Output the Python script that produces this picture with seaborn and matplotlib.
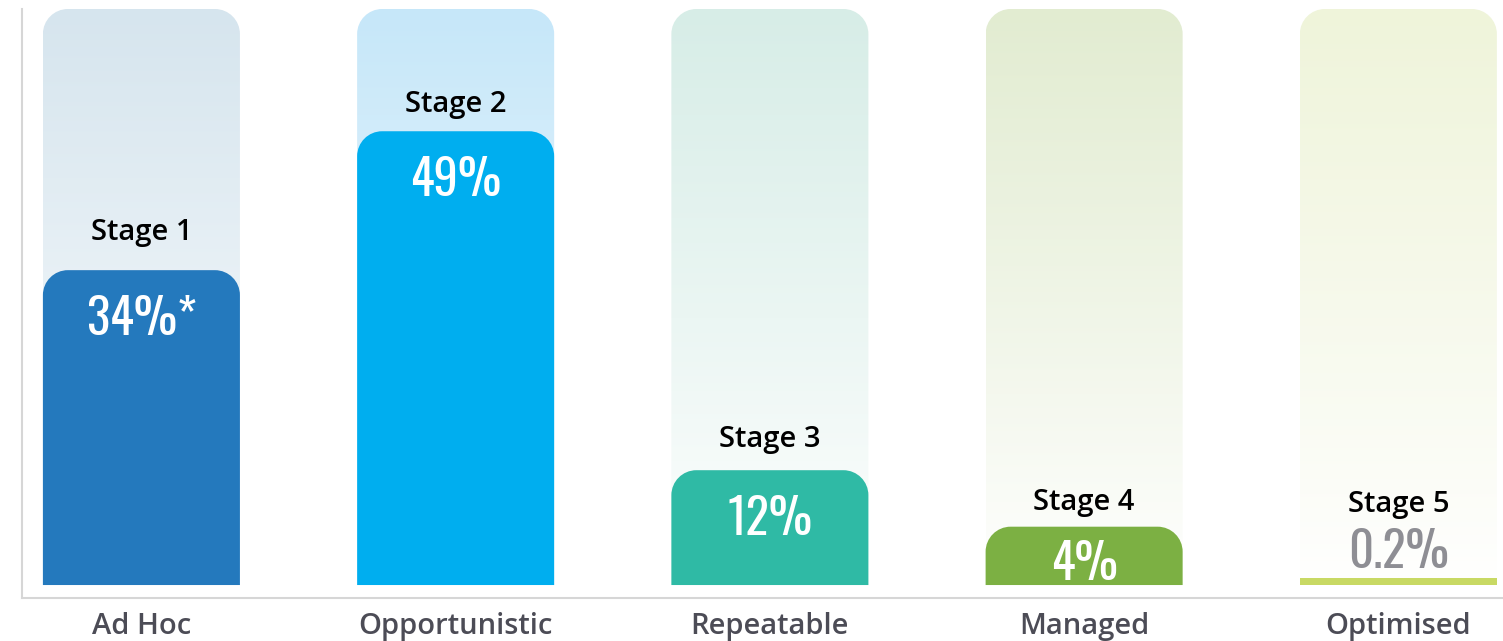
import numpy as np
import pandas as pd
import matplotlib
matplotlib.use("Agg")
import matplotlib.pyplot as plt
import seaborn as sns
from matplotlib.path import Path
from matplotlib.patches import PathPatch
from matplotlib.colors import to_rgb
from matplotlib import font_manager as fm

# ---- data ----
categories = ["Ad Hoc", "Opportunistic", "Repeatable", "Managed", "Optimised"]
stages = ["Stage 1", "Stage 2", "Stage 3", "Stage 4", "Stage 5"]
value_labels = ["34%*", "49%", "12%", "4%", "0.2%"]
bar_heights = [34, 49, 12.4, 6.3, 0.75]
scale_max = 62.2
bar_colors = ["#2479bd", "#00aeef", "#2fbaa5", "#7cb043", "#c8d964"]
bg_top_colors = ["#d6e5ee", "#c6e7f9", "#d7ede7", "#e2ecd1", "#eff4da"]
value_text_colors = ["white", "white", "white", "white", "#8e8e94"]

sns.set_theme(style="white")
plt.rcParams['font.family'] = ['Open Sans', 'DejaVu Sans']

# pick a condensed font for percentages
cond_family, cond_stretch = 'DejaVu Sans', 'condensed'
names = {f.name for f in fm.fontManager.ttflist}
for cand in ["Oswald", "Roboto Condensed", "Open Sans Condensed", "Liberation Sans Narrow",
             "Noto Sans Condensed", "DejaVu Sans Condensed"]:
    if cand in names:
        cond_family, cond_stretch = cand, 'normal'
        break

fig = plt.figure(figsize=(15.03, 6.41), dpi=100)
ax = fig.add_axes([22 / 1503, 43 / 641, 1481 / 1503, 589 / 641])

df = pd.DataFrame({"cat": categories, "h": bar_heights, "bg": [scale_max] * 5})
width = 0.627
sns.barplot(data=df, x="cat", y="bg", hue="cat", palette=bg_top_colors,
            legend=False, width=width, ax=ax, saturation=1)
n_bg = len(ax.patches)
sns.barplot(data=df, x="cat", y="h", hue="cat", palette=bar_colors,
            legend=False, width=width, ax=ax, saturation=1)
bg_patches = ax.patches[:n_bg]
val_patches = ax.patches[n_bg:]

ax.set_xlim(-0.380, 4.333)
ax.set_ylim(-1.40, scale_max)

ax_w_px = 1481
ax_h_px = 589
px_x = ax_w_px / (4.333 + 0.380)
px_y = ax_h_px / (scale_max + 1.40)
r_px = 25
rx, ry = r_px / px_x, r_px / px_y
K = 0.5523


def rounded_top(x0, x1, y0, y1, rx, ry):
    if (y1 - y0) < 1.5 * ry:
        verts = [(x0, y0), (x0, y1), (x1, y1), (x1, y0), (x0, y0)]
        codes = [Path.MOVETO, Path.LINETO, Path.LINETO, Path.LINETO, Path.CLOSEPOLY]
        return Path(verts, codes)
    verts = [(x0, y0), (x0, y1 - ry),
             (x0, y1 - ry + K * ry), (x0 + rx - K * rx, y1), (x0 + rx, y1),
             (x1 - rx, y1),
             (x1 - rx + K * rx, y1), (x1, y1 - ry + K * ry), (x1, y1 - ry),
             (x1, y0), (x0, y0)]
    codes = [Path.MOVETO, Path.LINETO,
             Path.CURVE4, Path.CURVE4, Path.CURVE4,
             Path.LINETO,
             Path.CURVE4, Path.CURVE4, Path.CURVE4,
             Path.LINETO, Path.CLOSEPOLY]
    return Path(verts, codes)


# gradient backgrounds
for p, col in zip(bg_patches, bg_top_colors):
    x0, w, h = p.get_x(), p.get_width(), p.get_height()
    p.set_visible(False)
    clip = PathPatch(rounded_top(x0, x0 + w, 0, h, rx, ry), facecolor='none',
                     edgecolor='none')
    ax.add_patch(clip)
    t = np.linspace(0, 1, 256) ** 0.9
    c = np.array(to_rgb(col))
    img = (1 - t)[:, None] * np.ones(3) + t[:, None] * c
    img = img[:, None, :]
    im = ax.imshow(img, extent=(x0, x0 + w, 0, h), origin='lower', aspect='auto',
                   interpolation='bicubic', zorder=0.5)
    im.set_clip_path(clip)

# rounded value bars
for p, col in zip(val_patches, bar_colors):
    x0, w, h = p.get_x(), p.get_width(), p.get_height()
    p.set_visible(False)
    ax.add_patch(PathPatch(rounded_top(x0, x0 + w, 0, h, rx, ry), facecolor=col,
                           edgecolor='none', zorder=2))

VAL_FS = 35
STAGE_FS = 21
label_gap_px = [38, 27, 31, 24, None]
# annotations
for i, p in enumerate(val_patches):
    cx = p.get_x() + p.get_width() / 2
    h = p.get_height()
    hp = h * px_y
    if hp < 20:
        # value text above the thin bar
        ax.annotate(value_labels[i], (cx, h), xytext=(0, 1), textcoords='offset points',
                    ha='center', va='bottom', fontsize=VAL_FS, color=value_text_colors[i],
                    family=cond_family, fontstretch=cond_stretch, fontweight='medium',
                    zorder=3)
        ax.annotate(stages[i], (cx, h), xytext=(0, 53), textcoords='offset points',
                    ha='center', va='center', fontsize=STAGE_FS, color='black',
                    fontweight='semibold', zorder=3)
    else:
        off_px = max(-45, -(hp - 25))
        ax.annotate(value_labels[i], (cx, h), xytext=(0, off_px * 0.72),
                    textcoords='offset points', ha='center', va='center_baseline',
                    fontsize=VAL_FS, color=value_text_colors[i],
                    family=cond_family, fontstretch=cond_stretch, fontweight='medium',
                    zorder=3)
        ax.annotate(stages[i], (cx, h), xytext=(0, label_gap_px[i] * 0.72),
                    textcoords='offset points', ha='center', va='center',
                    fontsize=STAGE_FS, color='black', fontweight='semibold', zorder=3)

ax.set_xlabel("")
ax.set_ylabel("")
ax.set_yticks([])
ax.tick_params(axis='x', length=0, pad=10, labelsize=21, labelcolor='#4c4c56')
for lab in ax.get_xticklabels():
    lab.set_fontweight('semibold')
for s in ['top', 'right']:
    ax.spines[s].set_visible(False)
for s in ['left', 'bottom']:
    ax.spines[s].set_color('#d6d6d6')
    ax.spines[s].set_linewidth(1.5)

fig.savefig("out.png", dpi=100)
